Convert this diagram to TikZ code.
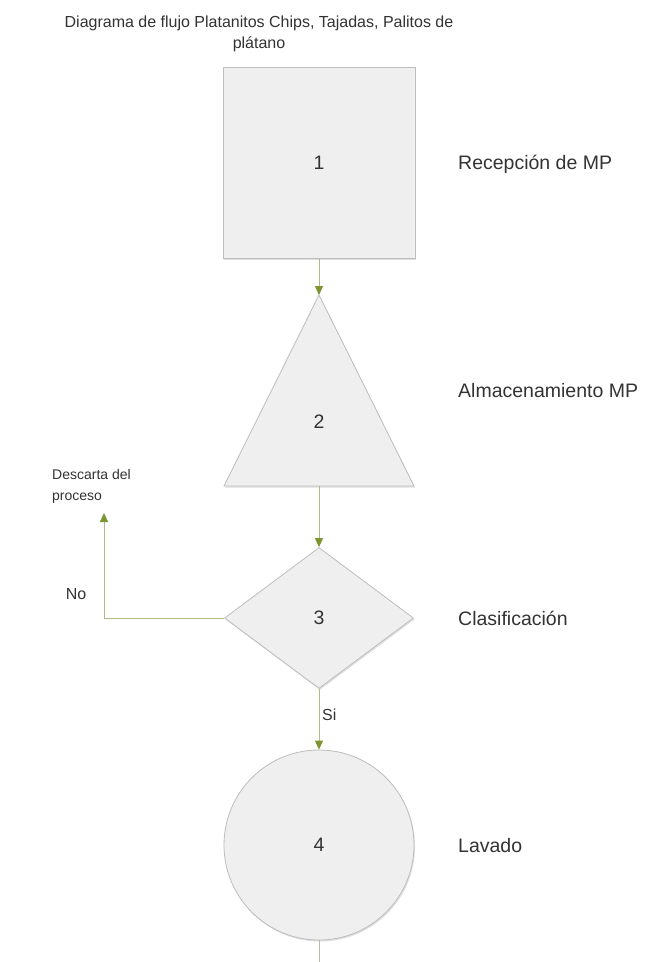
\documentclass[tikz,border=0pt]{standalone}
\usepackage{fontspec}
\setmainfont{Liberation Sans}
\usetikzlibrary{shapes.geometric,arrows.meta,shadows}
\definecolor{shapefill}{HTML}{EFEFEF}
\definecolor{shapeedge}{HTML}{BDBDBD}
\definecolor{flowline}{HTML}{B3B985}
\definecolor{flowtip}{HTML}{7D9530}
\definecolor{txt}{HTML}{333333}
\begin{document}
\begin{tikzpicture}[x=1pt,y=-1pt,
  stage/.style={draw=shapeedge, fill=shapefill, line width=0.8pt,
    drop shadow={shadow xshift=1pt,shadow yshift=-1.5pt,opacity=0.25}},
  numtext/.style={inner sep=0pt, text=txt, font=\fontsize{19.5}{22}\selectfont},
  steplabel/.style={anchor=base west, inner sep=0pt, text=txt, font=\fontsize{19.5}{22}\selectfont},
  smalllabel/.style={inner sep=0pt, text=txt, font=\fontsize{16}{19}\selectfont},
  flow/.style={draw=flowline, line width=1pt, -{Triangle[length=9pt,width=8pt,color=flowtip]}},
  plainflow/.style={draw=flowline!60!gray!70, line width=1pt}]
  % page
  \fill[white] (0,0) rectangle (647,962);
  \useasboundingbox (0,0) rectangle (647,962);

  % title
  \node[anchor=base, inner sep=0pt, text=txt, font=\fontsize{16}{19}\selectfont] (title1) at (259,27)
    {Diagrama de flujo Platanitos Chips, Tajadas, Palitos de};
  \node[anchor=base, inner sep=0pt, text=txt, font=\fontsize{16}{19}\selectfont] (title2) at (259,48)
    {plátano};

  % 1: reception (square)
  \node[stage, numtext, rectangle, minimum width=192pt, minimum height=191pt] (s1) at (319,163) {1};

  % 2: storage (triangle)
  \coordinate (t2top) at (319,295);
  \coordinate (t2bot) at (319,486);
  \path[stage] (t2top) -- (414,486) -- (224,486) -- cycle;
  \node[numtext] (s2) at (319,422) {2};

  % 3: classification (decision)
  \node[stage, numtext, diamond, minimum width=189pt, minimum height=141pt] (s3) at (319,618) {3};

  % 4: washing (circle)
  \node[stage, numtext, circle, minimum size=190pt] (s4) at (319,845) {4};

  % side labels
  \node[steplabel] (l1) at (458,169) {Recepción de MP};
  \node[steplabel] (l2) at (458,397) {Almacenamiento MP};
  \node[steplabel] (l3) at (458,625) {Clasificación};
  \node[steplabel] (l4) at (458,852) {Lavado};

  % connectors
  \coordinate (reject) at (104,513);
  \coordinate (next) at (319,962);
  \draw[flow] (s1.south) -- (t2top);
  \draw[flow] (t2bot) -- (s3.north);
  \draw[flow] (s3.west) -| (reject);
  \draw[flow] (s3.south) -- (s4.north);
  \draw[plainflow] (s4.south) -- (next);

  % branch labels
  \node[smalllabel, anchor=base west] (si) at (322,720) {Si};
  \node[smalllabel, anchor=base] (no) at (76,599) {No};
  \node[smalllabel, anchor=base west, align=left, font=\fontsize{14}{21}\selectfont] (desc) at (52,500)
    {Descarta del\\proceso};
\end{tikzpicture}
\end{document}
